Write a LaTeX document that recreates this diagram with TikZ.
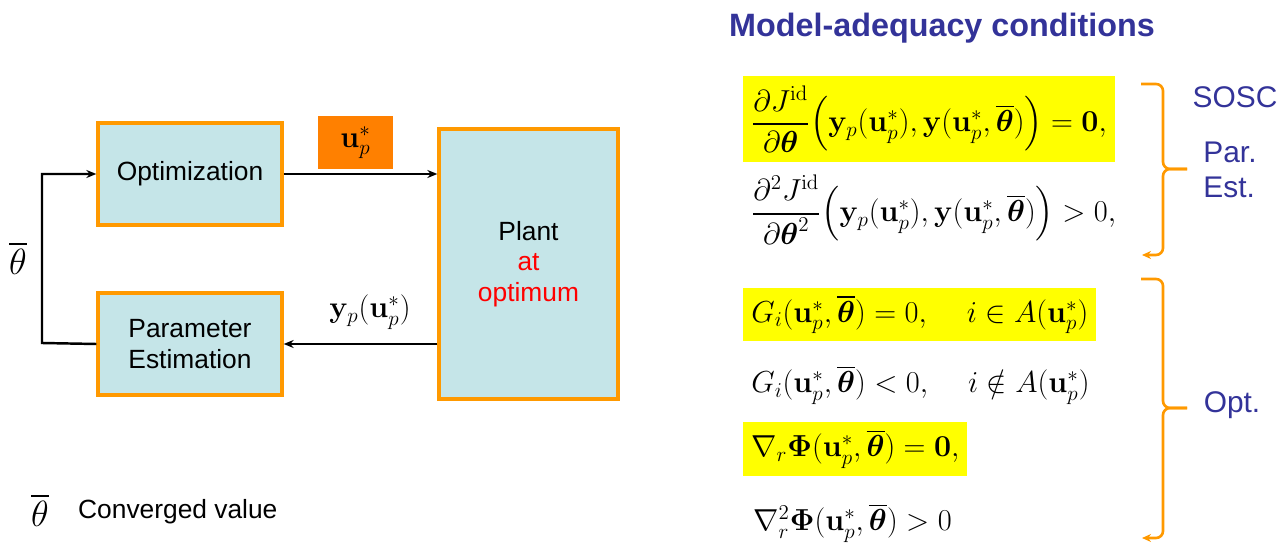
\documentclass[tikz,border=0pt]{standalone}
\usepackage{amsmath}
\usepackage[no-math]{fontspec}
\newfontfamily\arial{Liberation Sans}
\usetikzlibrary{positioning, arrows.meta, calc}
\definecolor{boxorange}{RGB}{255,153,0}
\definecolor{boxcyan}{RGB}{197,229,232}
\definecolor{tagorange}{RGB}{255,128,0}
\definecolor{hiyellow}{RGB}{255,255,0}
\definecolor{titleblue}{RGB}{51,51,153}
\newcommand{\up}{\mathbf{u}_p^*}
\newcommand{\thb}{\overline{\boldsymbol{\theta}}}

\begin{document}
\begin{tikzpicture}[x=0.02cm, y=-0.02cm, font=\arial\fontsize{15}{17.5}\selectfont,
  >={Stealth[length=2mm,width=1.6mm]},
  block/.style={draw=boxorange, fill=boxcyan, line width=1.9pt, align=center,
                minimum width=3.68cm, minimum height=2.04cm},
  link/.style={->, line width=1.4pt},
  eqn/.style={anchor=west, inner xsep=0.16cm, font=\fontsize{17}{20}\selectfont},
  hilite/.style={eqn, fill=hiyellow},
  tag/.style={text=titleblue, font=\arial\fontsize{17}{20}\selectfont, align=left},
  brace/.style={draw=boxorange, line width=1.5pt, rounded corners=4pt,
                -{Stealth[length=1.8mm,width=1.6mm]}}]
  \useasboundingbox (0,0) rectangle (1288,543);
  % block diagram
  \node[block] (opt) at (190,174) {Optimization};
  \node[block] (est) at (190,344) {Parameter\\Estimation};
  \node[block, minimum width=3.58cm, minimum height=5.4cm] (plant) at (528.5,264)
    {Plant\\\textcolor{red}{at}\\\textcolor{red}{optimum}};
  \node[fill=tagorange, minimum width=1.5cm, minimum height=1.06cm,
        font=\fontsize{17}{20}\selectfont] (uin) at (355.5,142.5) {$\up$};
  \node[font=\fontsize{17}{20}\selectfont] (yout) at (370,312) {$\mathbf{y}_p(\up)$};
  \node[font=\fontsize{20}{24}\selectfont] (thfb) at (18,258) {$\overline{\theta}$};
  \coordinate (fbtop) at (42,174);
  \coordinate (fbbot) at (42,343);
  \draw[link] (opt.east) -- (opt.east -| plant.west);
  \draw[link] (est.east -| plant.west) -- (est.east);
  \draw[link] (est.west) -- (fbbot) -- (fbtop) -- (opt.west);
  % legend
  \node[font=\fontsize{20}{24}\selectfont] (thleg) at (40,510) {$\overline{\theta}$};
  \node[anchor=west] (conv) at (72,512) {Converged value};

  % conditions
  \node[text=titleblue, font=\arial\bfseries\fontsize{18.4}{22}\selectfont] (title)
    at (942,28) {Model-adequacy conditions};
  \node[hilite, minimum height=1.72cm] (e1) at (743,119)
    {$\dfrac{\partial J^{\mathrm{id}}}{\partial\boldsymbol{\theta}}
      \Big(\mathbf{y}_p(\up),\mathbf{y}(\up,\thb)\Big)=\mathbf{0},$};
  \node[eqn] (e2) at (743,210)
    {$\dfrac{\partial^2 J^{\mathrm{id}}}{\partial\boldsymbol{\theta}^2}
      \Big(\mathbf{y}_p(\up),\mathbf{y}(\up,\thb)\Big)>0,$};
  \node[hilite, minimum height=1.06cm] (e3) at (743,314.5)
    {$G_i(\up,\thb)=0,\quad\, i\in A(\up)$};
  \node[eqn] (e4) at (743,385)
    {$G_i(\up,\thb)<0,\quad\, i\notin A(\up)$};
  \node[hilite, minimum height=1.08cm] (e5) at (743,449)
    {$\nabla_r\boldsymbol{\Phi}(\up,\thb)=\mathbf{0},$};
  \node[eqn] (e6) at (745,523)
    {$\nabla_r^2\boldsymbol{\Phi}(\up,\thb)>0$};
  % braces
  \coordinate (b1top) at (1141,84);
  \coordinate (b1tip) at (1187,169);
  \coordinate (b1end) at (1142,255);
  \coordinate (b2top) at (1141,279);
  \coordinate (b2tip) at (1187,408);
  \coordinate (b2end) at (1142,538);
  \draw[draw=boxorange, line width=1.5pt, rounded corners=4pt]
    (b1top) -- (1163,84) -- (1163,169) -- (b1tip);
  \draw[brace] (b1tip) -- (1163,169) -- (1163,255) -- (b1end);
  \draw[draw=boxorange, line width=1.5pt, rounded corners=4pt]
    (b2top) -- (1163,279) -- (1163,408) -- (b2tip);
  \draw[brace] (b2tip) -- (1163,408) -- (1163,538) -- (b2end);
  \node[tag] (sosc) at (1235,97) {SOSC};
  \node[tag] (parest) at (1230,170) {Par.\\Est.};
  \node[tag] (optl) at (1232,405) {Opt.};
\end{tikzpicture}
\end{document}
